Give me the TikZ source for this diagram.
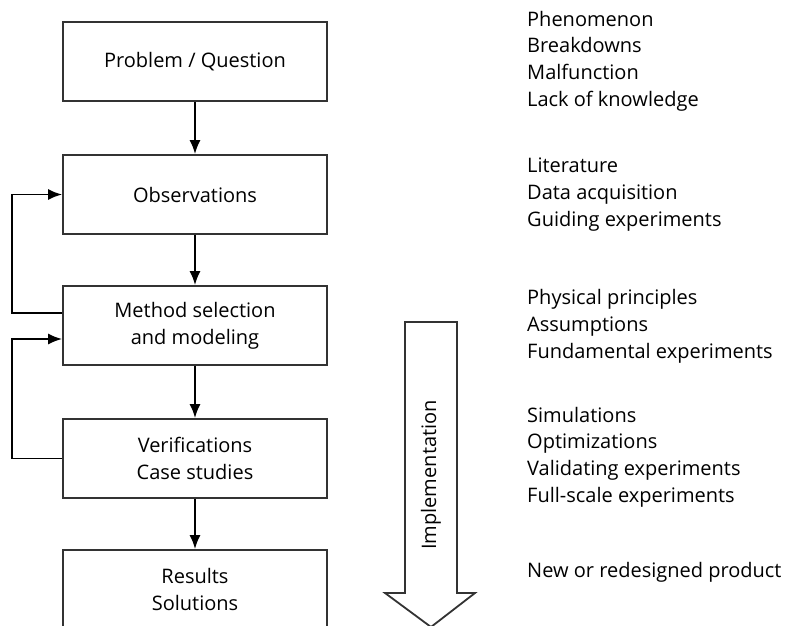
\documentclass[tikz,border=0pt]{standalone}
\usepackage{fontspec}
\setmainfont{Open Sans}
\usetikzlibrary{arrows.meta}

\tikzset{
  stage/.style={draw=black!80, line width=1.8pt, minimum width=264pt, minimum height=79pt,
    align=center, font=\fontsize{20}{27}\selectfont, inner sep=0pt},
  note/.style={anchor=west, align=left, font=\fontsize{20}{26.7}\selectfont, inner sep=0pt},
  flow/.style={line width=1.8pt, -{Latex[length=14pt,width=11pt]}}
}

\begin{document}
\begin{tikzpicture}[x=1pt,y=-1pt]
\clip (0,0) rectangle (787,626);

\node[stage] (prob) at (195,61.5) {Problem / Question};
\node[stage] (obs) at (195,194.5) {Observations};
\node[stage] (meth) at (195,325.5) {Method selection\\and modeling};
\node[stage] (verif) at (195,458.5) {Verifications\\Case studies};
\node[stage] (res) at (195,589.5) {Results\\Solutions};

\draw[flow] (prob) -- (obs);
\draw[flow] (obs) -- (meth);
\draw[flow] (meth) -- (verif);
\draw[flow] (verif) -- (res);

\draw[flow] ([yshift=12.5pt]meth.west) -- ++(-50,0) |- (obs.west);
\draw[flow] (verif.west) -- ++(-50,0) |- ([yshift=-13.5pt]meth.west);

\draw[line width=1.8pt, black!80, line join=miter]
  (405,322) -- (457,322) -- (457,593) -- (475,593) -- (431,627)
  -- (385,593) -- (405,593) -- cycle;
\node[rotate=90, font=\fontsize{20}{24}\selectfont] (impl) at (431,475) {Implementation};

\node[note] (probnote) at (527,61) {Phenomenon\\Breakdowns\\Malfunction\\Lack of knowledge};
\node[note] (obsnote) at (527,194.5) {Literature\\Data acquisition\\Guiding experiments};
\node[note] (methnote) at (527,326.5) {Physical principles\\Assumptions\\Fundamental experiments};
\node[note] (verifnote) at (527,457) {Simulations\\Optimizations\\Validating experiments\\Full-scale experiments};
\node[note] (resnote) at (527,572) {New or redesigned product};
\end{tikzpicture}
\end{document}
